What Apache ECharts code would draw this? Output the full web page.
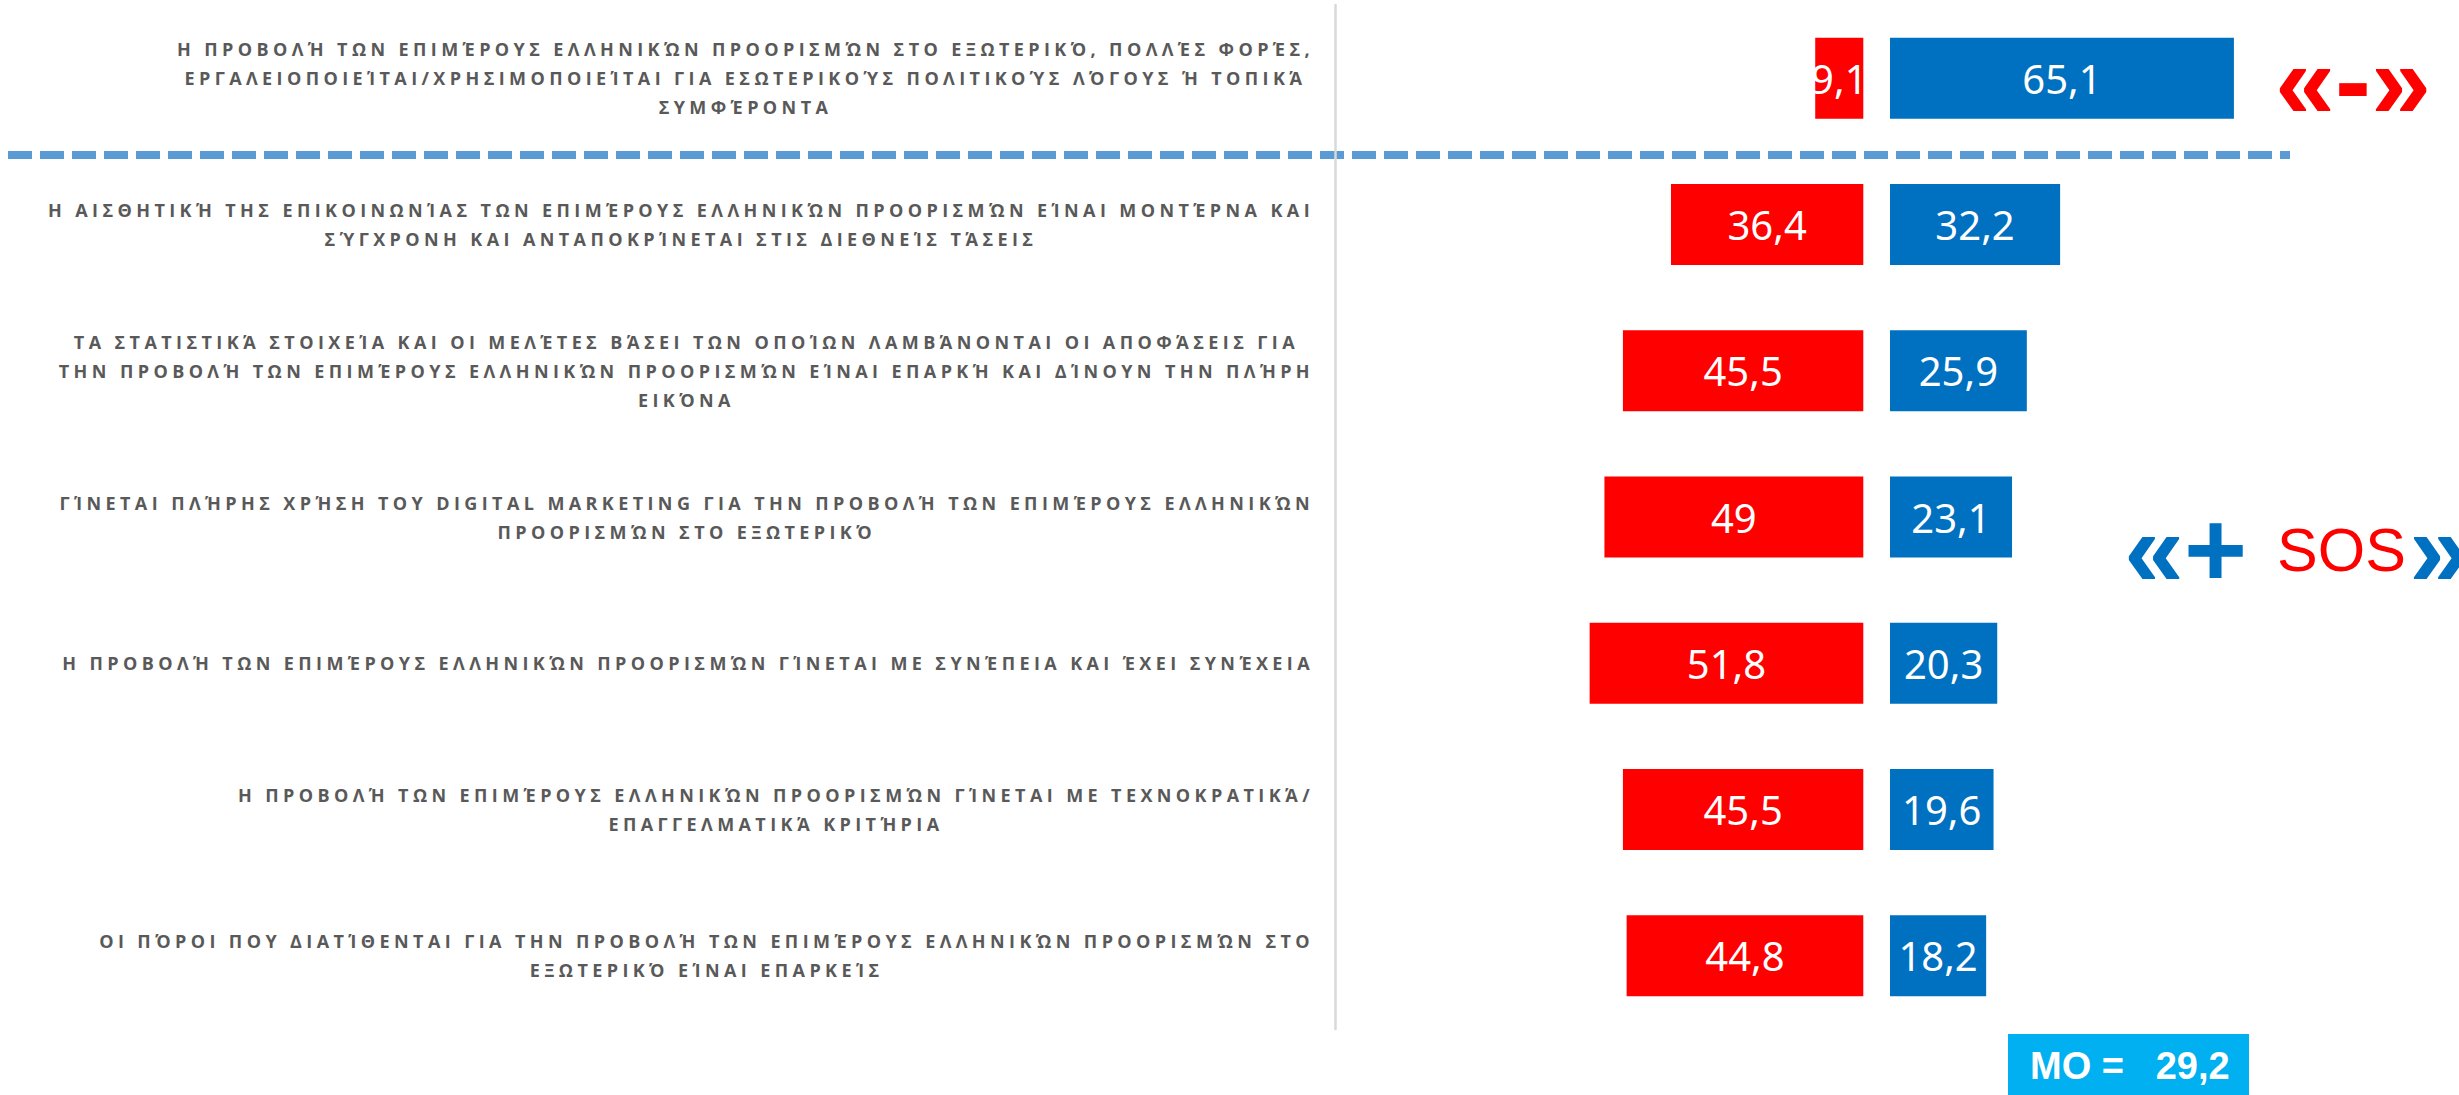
<!DOCTYPE html>
<html><head><meta charset="utf-8">
<script src="https://cdn.jsdelivr.net/npm/echarts@6/dist/echarts.min.js"></script>
<style>
html,body{margin:0;padding:0;background:#fff;}
#chart{width:2459px;height:1095px;}
#chart text[style*="Open Sans"]{letter-spacing:4.4px;}
</style></head><body><div id="chart"></div>
<script>
const categories = [
  'Η ΠΡΟΒΟΛΉ ΤΩΝ ΕΠΙΜΈΡΟΥΣ ΕΛΛΗΝΙΚΏΝ ΠΡΟΟΡΙΣΜΏΝ ΣΤΟ ΕΞΩΤΕΡΙΚΌ, ΠΟΛΛΈΣ ΦΟΡΈΣ,\nΕΡΓΑΛΕΙΟΠΟΙΕΊΤΑΙ/ΧΡΗΣΙΜΟΠΟΙΕΊΤΑΙ ΓΙΑ ΕΣΩΤΕΡΙΚΟΎΣ ΠΟΛΙΤΙΚΟΎΣ ΛΌΓΟΥΣ Ή ΤΟΠΙΚΆ\nΣΥΜΦΈΡΟΝΤΑ',
  'Η ΑΙΣΘΗΤΙΚΉ ΤΗΣ ΕΠΙΚΟΙΝΩΝΊΑΣ ΤΩΝ ΕΠΙΜΈΡΟΥΣ ΕΛΛΗΝΙΚΏΝ ΠΡΟΟΡΙΣΜΏΝ ΕΊΝΑΙ ΜΟΝΤΈΡΝΑ ΚΑΙ\nΣΎΓΧΡΟΝΗ ΚΑΙ ΑΝΤΑΠΟΚΡΊΝΕΤΑΙ ΣΤΙΣ ΔΙΕΘΝΕΊΣ ΤΆΣΕΙΣ',
  'ΤΑ ΣΤΑΤΙΣΤΙΚΆ ΣΤΟΙΧΕΊΑ ΚΑΙ ΟΙ ΜΕΛΈΤΕΣ ΒΆΣΕΙ ΤΩΝ ΟΠΟΊΩΝ ΛΑΜΒΆΝΟΝΤΑΙ ΟΙ ΑΠΟΦΆΣΕΙΣ ΓΙΑ\nΤΗΝ ΠΡΟΒΟΛΉ ΤΩΝ ΕΠΙΜΈΡΟΥΣ ΕΛΛΗΝΙΚΏΝ ΠΡΟΟΡΙΣΜΏΝ ΕΊΝΑΙ ΕΠΑΡΚΉ ΚΑΙ ΔΊΝΟΥΝ ΤΗΝ ΠΛΉΡΗ\nΕΙΚΌΝΑ',
  'ΓΊΝΕΤΑΙ ΠΛΉΡΗΣ ΧΡΉΣΗ ΤΟΥ DIGITAL MARKETING ΓΙΑ ΤΗΝ ΠΡΟΒΟΛΉ ΤΩΝ ΕΠΙΜΈΡΟΥΣ ΕΛΛΗΝΙΚΏΝ\nΠΡΟΟΡΙΣΜΏΝ ΣΤΟ ΕΞΩΤΕΡΙΚΌ',
  'Η ΠΡΟΒΟΛΉ ΤΩΝ ΕΠΙΜΈΡΟΥΣ ΕΛΛΗΝΙΚΏΝ ΠΡΟΟΡΙΣΜΏΝ ΓΊΝΕΤΑΙ ΜΕ ΣΥΝΈΠΕΙΑ ΚΑΙ ΈΧΕΙ ΣΥΝΈΧΕΙΑ',
  'Η ΠΡΟΒΟΛΉ ΤΩΝ ΕΠΙΜΈΡΟΥΣ ΕΛΛΗΝΙΚΏΝ ΠΡΟΟΡΙΣΜΏΝ ΓΊΝΕΤΑΙ ΜΕ ΤΕΧΝΟΚΡΑΤΙΚΆ/\nΕΠΑΓΓΕΛΜΑΤΙΚΆ ΚΡΙΤΉΡΙΑ',
  'ΟΙ ΠΌΡΟΙ ΠΟΥ ΔΙΑΤΊΘΕΝΤΑΙ ΓΙΑ ΤΗΝ ΠΡΟΒΟΛΉ ΤΩΝ ΕΠΙΜΈΡΟΥΣ ΕΛΛΗΝΙΚΏΝ ΠΡΟΟΡΙΣΜΏΝ ΣΤΟ\nΕΞΩΤΕΡΙΚΌ ΕΊΝΑΙ ΕΠΑΡΚΕΊΣ'
];
const negativeValues = [9.1, 36.4, 45.5, 49, 51.8, 45.5, 44.8];
const positiveValues = [65.1, 32.2, 25.9, 23.1, 20.3, 19.6, 18.2];
const meanLabel = 'MO =';
const meanValue = 29.2;
const negativeTag = '«-»';
const positiveTagA = '«+';
const positiveTagB = 'SOS';
const positiveTagC = '»';

const LS = 4.4;
const mctx = document.createElement('canvas').getContext('2d');
echarts.setPlatformAPI({
  measureText: function (text, font) {
    mctx.font = font || '12px sans-serif';
    const w = mctx.measureText(text).width;
    const extra = (font && font.indexOf('Open Sans') >= 0) ? String(text).length * LS : 0;
    return { width: w + extra };
  }
});

const fmt = v => String(v).replace('.', ',');

const chart = echarts.init(document.getElementById('chart'), null, { renderer: 'svg' });

const valueLabel = {
  show: true, position: 'inside', color: '#fff', fontSize: 40,
  fontFamily: 'Noto Sans', textBorderWidth: 0,
  formatter: p => fmt(p.value)
};

chart.setOption({
  animation: false,
  backgroundColor: '#fff',
  grid: [
    { left: 1335, width: 528.3, top: 5, height: 1024, containLabel: false, outerBoundsMode: 'none' },
    { left: 1890, width: 369.8, top: 5, height: 1024, containLabel: false, outerBoundsMode: 'none' }
  ],
  xAxis: [
    { gridIndex: 0, type: 'value', min: 0, max: 100, inverse: true, show: false },
    { gridIndex: 1, type: 'value', min: 0, max: 70, show: false }
  ],
  yAxis: [
    {
      gridIndex: 0, type: 'category', inverse: true, data: categories,
      position: 'left',
      axisLine: { show: true, onZero: false, lineStyle: { color: '#D9D9D9', width: 2.5 } },
      axisTick: { show: false }, splitLine: { show: false },
      axisLabel: {
        interval: 0, margin: 21,
        formatter: v => v.split('\n').map(l => '{c|' + l + '}').join('\n'),
        rich: {
          c: { align: 'center', fontFamily: 'Open Sans', fontWeight: 'bold', fontSize: 18, color: '#595959', lineHeight: 29 }
        }
      }
    },
    { gridIndex: 1, type: 'category', inverse: true, data: categories, show: false }
  ],
  series: [
    { type: 'bar', xAxisIndex: 0, yAxisIndex: 0, data: negativeValues, barWidth: 81,
      itemStyle: { color: '#FF0000' }, label: valueLabel },
    { type: 'bar', xAxisIndex: 1, yAxisIndex: 1, data: positiveValues, barWidth: 81,
      itemStyle: { color: '#0070C0' }, label: valueLabel }
  ],
  graphic: [
    { type: 'line', shape: { x1: 8, y1: 155, x2: 2290, y2: 155 },
      style: { stroke: '#5B9BD5', lineWidth: 8, lineDash: [24, 8] } },
    { type: 'text', x: 2275, y: 80,
      style: { text: negativeTag, fill: '#FF0000', fontSize: 108, fontWeight: 'bold', fontFamily: 'Liberation Sans', verticalAlign: 'middle' } },
    { type: 'text', x: 2124, y: 548,
      style: { text: positiveTagA, fill: '#0070C0', fontSize: 108, fontWeight: 'bold', fontFamily: 'Liberation Sans', verticalAlign: 'middle' } },
    { type: 'text', x: 2277, y: 550,
      style: { text: positiveTagB, fill: '#FF0000', fontSize: 61, fontFamily: 'Liberation Sans', verticalAlign: 'middle' } },
    { type: 'text', x: 2409, y: 548,
      style: { text: positiveTagC, fill: '#0070C0', fontSize: 108, fontWeight: 'bold', fontFamily: 'Liberation Sans', verticalAlign: 'middle' } },
    { type: 'rect', shape: { x: 2008, y: 1034, width: 241, height: 61 }, style: { fill: '#00B0F0' } },
    { type: 'text', x: 2030, y: 1066,
      style: { text: meanLabel + '   ' + fmt(meanValue), fill: '#fff', fontSize: 38, fontWeight: 'bold', fontFamily: 'Liberation Sans', verticalAlign: 'middle' } }
  ]
});
</script></body></html>
